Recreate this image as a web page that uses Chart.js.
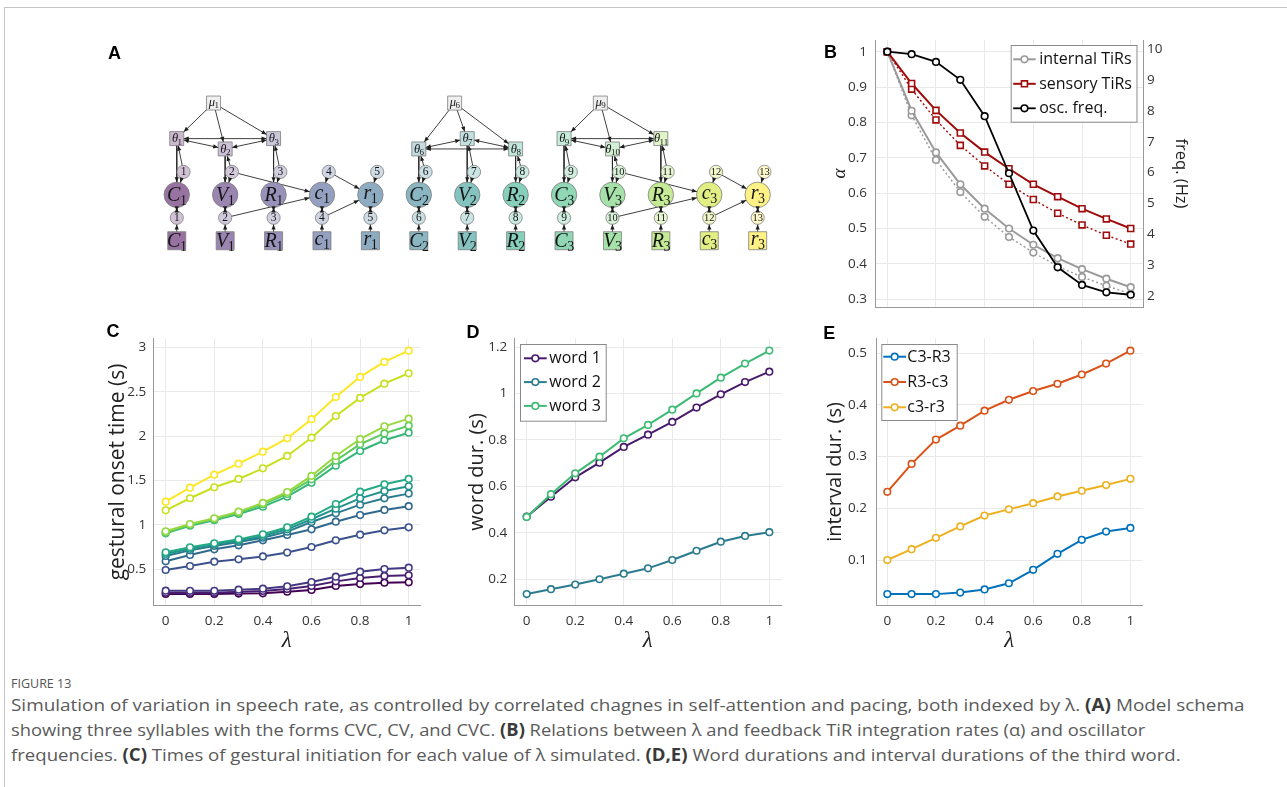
<!DOCTYPE html>
<html><head><meta charset="utf-8">
<script src="https://cdn.jsdelivr.net/npm/chart.js@4/dist/chart.umd.min.js"></script>
<style>
html,body{margin:0;padding:0;background:#fff;}
body{width:1287px;height:787px;position:relative;overflow:hidden;font-family:'Open Sans',sans-serif;}
canvas{position:absolute;}
.frame{position:absolute;left:4px;top:7px;width:1300px;height:800px;border-left:1px solid #c4c4c4;border-top:1px solid #c4c4c4;}
.letter{position:absolute;font:bold 18px 'Liberation Sans',Arial,sans-serif;line-height:18px;color:#000;z-index:5;}
.cap{position:absolute;left:11px;white-space:nowrap;transform-origin:0 0;color:#5a5a5a;font-family:'Open Sans',sans-serif;font-size:17px;line-height:20px;}
.cap b{color:#3a3a3a;font-weight:700;}
.fig{position:absolute;left:11px;top:676px;white-space:nowrap;transform-origin:0 0;color:#555;font-family:'Open Sans',sans-serif;font-size:12.5px;line-height:16px;}
</style></head>
<body>
<div class="frame"></div>
<canvas id="cA" width="720" height="280" style="left:100px;top:30px"></canvas>
<canvas id="cB" width="380" height="285" style="left:820px;top:30px"></canvas>
<canvas id="cC" width="340" height="340" style="left:100px;top:320px"></canvas>
<canvas id="cD" width="350" height="340" style="left:450px;top:320px"></canvas>
<canvas id="cE" width="370" height="340" style="left:800px;top:320px"></canvas>
<div class="letter" style="left:108px;top:44.3px">A</div>
<div class="letter" style="left:824px;top:42.7px">B</div>
<div class="letter" style="left:106.5px;top:321.7px">C</div>
<div class="letter" style="left:466.5px;top:322.5px">D</div>
<div class="letter" style="left:823.3px;top:323.5px">E</div>
<div class="fig" data-w="60">FIGURE 13</div>
<div class="cap" data-w="1234" style="top:694.5px">Simulation of variation in speech rate, as controlled by correlated chagnes in self-attention and pacing, both indexed by λ. <b>(A)</b> Model schema</div>
<div class="cap" data-w="1134" style="top:719.5px">showing three syllables with the forms CVC, CV, and CVC. <b>(B)</b> Relations between λ and feedback TiR integration rates (α) and oscillator</div>
<div class="cap" data-w="1169" style="top:744.5px">frequencies. <b>(C)</b> Times of gestural initiation for each value of λ simulated. <b>(D,E)</b> Word durations and interval durations of the third word.</div>
<script>
// ---------------- DATA ----------------
const LAMBDA = [0,0.1,0.2,0.3,0.4,0.5,0.6,0.7,0.8,0.9,1];

// Panel B
const B_LEGEND = ['internal TiRs','sensory TiRs','osc. freq.'];
const B_INTERNAL     = [1.000,0.833,0.715,0.625,0.556,0.500,0.454,0.416,0.385,0.358,0.334];
const B_INTERNAL_DOT = [1.000,0.820,0.694,0.603,0.533,0.476,0.432,0.393,0.363,0.338,0.315];
const B_SENSORY      = [1.000,0.910,0.834,0.770,0.716,0.669,0.625,0.590,0.556,0.527,0.500];
const B_SENSORY_DOT  = [1.000,0.894,0.807,0.735,0.677,0.625,0.582,0.543,0.510,0.481,0.456];
const B_FREQ         = [9.92,9.84,9.59,9.01,7.83,5.98,4.12,2.93,2.36,2.12,2.04];

// Panel C (gestural onset times, s)
const C_C1 = [0.222,0.222,0.222,0.226,0.229,0.248,0.267,0.312,0.334,0.349,0.353];
const C_V1 = [0.236,0.236,0.236,0.248,0.256,0.278,0.312,0.364,0.402,0.425,0.432];
const C_R1 = [0.259,0.258,0.258,0.271,0.282,0.308,0.357,0.417,0.473,0.503,0.518];
const C_c1 = [0.492,0.537,0.586,0.612,0.645,0.688,0.751,0.826,0.890,0.939,0.973];
const C_r1 = [0.590,0.661,0.725,0.770,0.826,0.886,0.950,1.036,1.111,1.168,1.211];
const C_C2 = [0.650,0.713,0.762,0.807,0.856,0.924,1.033,1.130,1.228,1.299,1.352];
const C_V2 = [0.672,0.732,0.781,0.822,0.875,0.950,1.063,1.183,1.299,1.382,1.434];
const C_R2 = [0.691,0.747,0.792,0.837,0.894,0.973,1.093,1.235,1.374,1.457,1.517];
const C_C3 = [0.905,0.990,1.052,1.123,1.205,1.318,1.475,1.667,1.832,1.953,2.038];
const C_V3 = [0.912,1.000,1.063,1.137,1.232,1.348,1.513,1.723,1.908,2.030,2.117];
const C_R3 = [0.928,1.010,1.074,1.149,1.247,1.370,1.551,1.776,1.967,2.110,2.196];
const C_c3 = [1.164,1.300,1.424,1.517,1.637,1.776,1.982,2.226,2.430,2.590,2.707];
const C_r3 = [1.261,1.419,1.565,1.689,1.824,1.975,2.190,2.440,2.666,2.835,2.962];
const C_SERIES = [C_C1,C_V1,C_R1,C_c1,C_r1,C_C2,C_V2,C_R2,C_C3,C_V3,C_R3,C_c3,C_r3];
const C_NAMES = ['C1','V1','R1','c1','r1','C2','V2','R2','C3','V3','R3','c3','r3'];

// Panel D (word durations, s)
const D_LEGEND = ['word 1','word 2','word 3'];
const D_WORD1 = [0.469,0.555,0.639,0.702,0.770,0.823,0.878,0.940,0.997,1.050,1.095];
const D_WORD2 = [0.135,0.156,0.176,0.199,0.223,0.246,0.282,0.322,0.361,0.386,0.402];
const D_WORD3 = [0.468,0.566,0.656,0.728,0.807,0.865,0.931,1.001,1.069,1.130,1.186];

// Panel E (interval durations, s)
const E_LEGEND = ['C3-R3','R3-c3','c3-r3'];
const E_C3R3 = [0.034,0.034,0.034,0.037,0.043,0.055,0.081,0.112,0.139,0.155,0.162];
const E_R3c3 = [0.232,0.286,0.333,0.360,0.389,0.410,0.427,0.441,0.459,0.480,0.505];
const E_c3r3 = [0.100,0.121,0.143,0.165,0.186,0.198,0.210,0.223,0.234,0.245,0.257];

// Panel A (model schema): gestures in columns, rows by level
const A_GESTURES = ['C','V','R','c','r','C','V','R','C','V','R','c','r'];
const A_SUBS     = ['1','1','1','1','1','2','2','2','3','3','3','3','3'];
const A_THETA_COLS = [0,1,2,5,6,7,8,9,10];
const A_THETA_NUM  = ['1','2','3','6','7','8','9','10','11'];
const A_THETA_ROW  = [4.45,4,4.45,4,4.45,4,4.45,4,4.45];
const A_MU_COLS = [0.76,5.74,8.75];
const A_MU_NUM  = ['1','6','9'];
const A_SYLLABLE_THETAS = [[0,1,2],[5,6,7],[8,9,10]];
const A_CODA = [3,4,11,12];
const A_CROSS = [[1,3],[3,4],[9,11],[11,12]];
const A_ROW = {square:0, lower:1, big:2, top:3, mu:6};

// ---------------- STYLE ----------------
const VIRIDIS13 = ['#440154','#481f70','#443983','#3b528b','#31688e','#297a8e','#21918c','#23a983','#35b779','#5ec962','#95d840','#c8e020','#fde725'];
const TICK_FONT = {family:"'Open Sans', sans-serif", size:13.5};
const GRID = '#e9e9e9', AXIS = '#999', TICKC = '#333';
const LAMBDA_FONT = {family:"'Liberation Serif', serif", style:'italic', size:23};
const TITLE_FONT = {family:"'Open Sans', sans-serif", size:20};

function fmt(v){ return String(Math.round(v*100)/100); }
function pts(vals){ return LAMBDA.map((x,i)=>({x:x, y:vals[i]})); }
function blend(hex, t){
  const n = parseInt(hex.slice(1),16);
  const r=(n>>16)&255, g=(n>>8)&255, b=n&255;
  const f=c=>Math.round(c+(255-c)*t);
  return 'rgb('+f(r)+','+f(g)+','+f(b)+')';
}
function fitFn(size, horiz){
  return function(s){
    if(horiz) s.height=size; else s.width=size;
    s.paddingLeft=0; s.paddingRight=0; s.paddingTop=0; s.paddingBottom=0;
  };
}
function xScale(c){ return {
  type:'linear', position:'bottom', min:c.min, max:c.max,
  ticks:{stepSize:0.2, includeBounds:false, display:c.labels!==false, font:TICK_FONT, color:TICKC, padding:c.pad||7, maxRotation:0, autoSkip:false, callback:fmt},
  grid:{color:GRID, drawTicks:false},
  border:{color:AXIS, width:1},
  title: c.title ? {display:true, text:c.title, font:c.titleFont, color:'#222', padding:{top:0,bottom:c.titlePad}} : {display:false},
  afterFit: fitFn(c.size, true)
};}
function yScale(c){ return {
  type:'linear', position:c.position||'left', min:c.min, max:c.max,
  ticks:{stepSize:c.step, includeBounds:false, font:TICK_FONT, color:TICKC, padding:c.pad||7, autoSkip:false, callback:fmt},
  grid:{color:GRID, drawTicks:false, drawOnChartArea:c.grid!==false},
  border:{color:AXIS, width:1},
  title:{display:true, text:c.title, font:c.titleFont, color:'#222', padding:{top:c.titlePad,bottom:0}},
  afterFit: fitFn(c.size, false)
};}
function series(label, vals, color, o){
  return Object.assign({
    label:label, data:pts(vals), borderColor:color, backgroundColor:color,
    borderWidth:2, pointRadius:3.3, pointStyle:'circle', pointBorderWidth:1.6,
    pointBackgroundColor:'#fff', pointBorderColor:color, showLine:true, fill:false, tension:0
  }, o||{});
}
function baseOptions(scales, padding, legend){
  return {
    responsive:false, animation:false, devicePixelRatio:1,
    layout:{padding:padding},
    plugins:{legend:{display:false}, tooltip:{enabled:false}, boxLegend: legend || false},
    scales:scales
  };
}

// Legend drawn inside the plot (box style)
function drawMarker(ctx, style, r, x, y){
  ctx.beginPath();
  if(style==='rect'){ const h=r*Math.SQRT1_2; ctx.rect(x-h,y-h,2*h,2*h); }
  else ctx.arc(x,y,r,0,Math.PI*2);
  ctx.fill(); ctx.stroke();
}
const boxLegend = {
  id:'boxLegend',
  afterDraw(chart, args, o){
    if(!o || o.w===undefined) return;
    const ctx = chart.ctx; ctx.save();
    ctx.fillStyle='#fff'; ctx.strokeStyle='#8a8a8a'; ctx.lineWidth=1; ctx.setLineDash([]);
    ctx.fillRect(o.x,o.y,o.w,o.h); ctx.strokeRect(o.x+0.5,o.y+0.5,o.w,o.h);
    let i=0;
    chart.data.datasets.forEach(ds=>{
      if(!ds.legendLabel) return;
      const y = o.y + o.first + i*o.step;
      ctx.strokeStyle=ds.borderColor; ctx.lineWidth=ds.borderWidth; ctx.setLineDash([]);
      ctx.beginPath(); ctx.moveTo(o.x+o.l0,y); ctx.lineTo(o.x+o.l1,y); ctx.stroke();
      ctx.fillStyle='#fff'; ctx.lineWidth=ds.pointBorderWidth;
      drawMarker(ctx, ds.pointStyle, ds.pointRadius, o.x+(o.l0+o.l1)/2, y);
      ctx.fillStyle='#111'; ctx.font="16px 'Open Sans', sans-serif"; ctx.textBaseline='middle'; ctx.textAlign='left';
      ctx.fillText(ds.legendLabel, o.x+o.tx, y+0.5);
      i++;
    });
    ctx.restore();
  }
};
Chart.register(boxLegend);

// ---------------- PANEL B ----------------
const GRAY='#9a9a9a', RED='#9e0b0b';
new Chart(document.getElementById('cB'), {
  type:'scatter',
  data:{datasets:[
    series('internal dotted', B_INTERNAL_DOT, GRAY, {borderWidth:1.4, borderDash:[2,2.5], order:5}),
    series('sensory dotted', B_SENSORY_DOT, RED, {borderWidth:1.4, borderDash:[2,2.5], pointStyle:'rect', pointRadius:4.2, order:4}),
    series(B_LEGEND[0], B_INTERNAL, GRAY, {legendLabel:B_LEGEND[0], order:3}),
    series(B_LEGEND[1], B_SENSORY, RED, {legendLabel:B_LEGEND[1], pointStyle:'rect', pointRadius:4.2, order:2}),
    series(B_LEGEND[2], B_FREQ, '#000', {legendLabel:B_LEGEND[2], yAxisID:'y2', borderWidth:1.8, order:1})
  ]},
  options: baseOptions({
    x: xScale({min:-0.0505, max:1.0505, labels:false, size:8}),
    y: yScale({min:0.278, max:1.033, step:0.1, size:55, pad:8, title:'α', titleFont:{family:"'Liberation Serif', serif", style:'italic', size:19}, titlePad:9}),
    y2: yScale({position:'right', min:1.643, max:10.30, step:1, size:57, pad:4, grid:false, title:'freq. (Hz)', titleFont:{family:"'Open Sans', sans-serif", size:16.5}, titlePad:9})
  }, {top:10,left:0,right:0,bottom:0},
  {x:190.7, y:15, w:125.8, h:76.7, first:14.3, step:24.5, l0:2.5, l1:25, tx:28.5})
});

// ---------------- PANEL C ----------------
new Chart(document.getElementById('cC'), {
  type:'scatter',
  data:{datasets: C_SERIES.map((vals,i)=>series(C_NAMES[i], vals, VIRIDIS13[i], {order:13-i}))},
  options: baseOptions({
    x: xScale({min:-0.051, max:1.0465, size:54.3, pad:7.6, title:'λ', titleFont:LAMBDA_FONT, titlePad:5}),
    y: yScale({min:0.090, max:3.101, step:0.5, size:53.3, pad:7, title:'gestural onset time (s)', titleFont:{family:"'Open Sans', sans-serif", size:21}, titlePad:5})
  }, {top:18.3,left:0,right:20,bottom:0})
});

// ---------------- PANEL D ----------------
new Chart(document.getElementById('cD'), {
  type:'scatter',
  data:{datasets:[
    series(D_LEGEND[0], D_WORD1, '#481a6c', {legendLabel:D_LEGEND[0], order:2}),
    series(D_LEGEND[1], D_WORD2, '#2a7b8e', {legendLabel:D_LEGEND[1], order:3}),
    series(D_LEGEND[2], D_WORD3, '#3dbb74', {legendLabel:D_LEGEND[2], order:1})
  ]},
  options: baseOptions({
    x: xScale({min:-0.0523, max:1.051, size:54.3, pad:7.6, title:'λ', titleFont:LAMBDA_FONT, titlePad:5}),
    y: yScale({min:0.0848, max:1.2389, step:0.2, size:64, pad:6.7, title:'word dur. (s)', titleFont:TITLE_FONT, titlePad:15})
  }, {top:18.3,left:0,right:18.3,bottom:0},
  {x:70, y:24, w:85.7, h:76.7, first:14.3, step:23.8, l0:4, l1:26.7, tx:29.3})
});

// ---------------- PANEL E ----------------
new Chart(document.getElementById('cE'), {
  type:'scatter',
  data:{datasets:[
    series(E_LEGEND[0], E_C3R3, '#0072bd', {legendLabel:E_LEGEND[0], order:1}),
    series(E_LEGEND[1], E_R3c3, '#d95319', {legendLabel:E_LEGEND[1], order:2}),
    series(E_LEGEND[2], E_c3r3, '#edb120', {legendLabel:E_LEGEND[2], order:3})
  ]},
  options: baseOptions({
    x: xScale({min:-0.0465, max:1.0506, size:54.3, pad:7.6, title:'λ', titleFont:LAMBDA_FONT, titlePad:5}),
    y: yScale({min:0.0116, max:0.529, step:0.1, size:76, pad:9, title:'interval dur. (s)', titleFont:TITLE_FONT, titlePad:23.7})
  }, {top:18.3,left:0,right:27.3,bottom:0},
  {x:81.3, y:24, w:75.4, h:76, first:12.7, step:25.3, l0:2, l1:24.7, tx:26})
});

// ---------------- PANEL A (schema) ----------------
const TOP_SHIFT = 0.14;
const nodes = {};
A_GESTURES.forEach((g,i)=>{
  nodes['sq'+i]  = {x:i, y:A_ROW.square, type:'sq', col:i};
  nodes['lo'+i]  = {x:i, y:A_ROW.lower, type:'lo', col:i};
  nodes['big'+i] = {x:i, y:A_ROW.big, type:'big', col:i};
  nodes['top'+i] = {x:i+TOP_SHIFT, y:A_ROW.top, type:'top', col:i};
});
A_THETA_COLS.forEach((c,j)=>{ nodes['th'+c] = {x:c, y:A_THETA_ROW[j], type:'th', col:c, num:A_THETA_NUM[j]}; });
A_MU_COLS.forEach((c,j)=>{ nodes['mu'+j] = {x:c, y:A_ROW.mu, type:'mu', num:A_MU_NUM[j]}; });

const edges = [];
A_SYLLABLE_THETAS.forEach((th,s)=>{
  th.forEach(c=>edges.push(['mu'+s,'th'+c,'end']));
  [[0,1],[1,2],[0,2]].forEach(p=>edges.push(['th'+th[p[0]],'th'+th[p[1]],'both']));
  th.forEach(c=>{
    edges.push(['th'+c,'big'+c,'end']);
    edges.push(['top'+c,'th'+c,'end']);
    edges.push(['top'+c,'big'+c,'end']);
  });
});
A_CODA.forEach(c=>edges.push(['top'+c,'big'+c,'end']));
A_GESTURES.forEach((g,i)=>{ edges.push(['sq'+i,'lo'+i,'end']); edges.push(['lo'+i,'big'+i,'both']); });
A_CROSS.forEach(p=>{ edges.push(['top'+p[0],'big'+p[1],'end']); edges.push(['lo'+p[0],'big'+p[1],'end']); });

const GEOM = {sq:{shape:'rect',h:9}, lo:{shape:'circle',r:6.6}, big:{shape:'circle',r:12.7}, top:{shape:'circle',r:6.6}, th:{shape:'rect',h:7}, mu:{shape:'rect',h:7}};
const RECT_R = h => h/Math.SQRT1_2;

function nodeDataset(type, keys, colors, order){
  const g = GEOM[type];
  return {
    label:type, data:keys.map(k=>({x:nodes[k].x, y:nodes[k].y})),
    pointStyle: g.shape==='rect' ? 'rect' : 'circle',
    pointRadius: g.shape==='rect' ? RECT_R(g.h) : g.r,
    pointBackgroundColor: colors, pointBorderColor:'#7d7d7d', pointBorderWidth:0.8,
    showLine:false, order:order
  };
}
const idx13 = A_GESTURES.map((g,i)=>i);
const aDatasets = [];
edges.forEach(e=>{
  aDatasets.push({label:'edge', data:[{x:nodes[e[0]].x,y:nodes[e[0]].y},{x:nodes[e[1]].x,y:nodes[e[1]].y}],
    showLine:true, pointRadius:0, borderColor:'#2a2a2a', borderWidth:0.9, order:5});
});
aDatasets.push(nodeDataset('sq', idx13.map(i=>'sq'+i), idx13.map(i=>blend(VIRIDIS13[i],0.45)), 0));
aDatasets.push(nodeDataset('lo', idx13.map(i=>'lo'+i), idx13.map(i=>blend(VIRIDIS13[i],0.76)), 0));
aDatasets.push(nodeDataset('big', idx13.map(i=>'big'+i), idx13.map(i=>blend(VIRIDIS13[i],0.45)), 0));
aDatasets.push(nodeDataset('top', idx13.map(i=>'top'+i), idx13.map(i=>blend(VIRIDIS13[i],0.76)), 0));
aDatasets.push(nodeDataset('th', A_THETA_COLS.map(c=>'th'+c), A_THETA_COLS.map(c=>blend(VIRIDIS13[c],0.72)), 0));
aDatasets.push(nodeDataset('mu', A_MU_COLS.map((c,j)=>'mu'+j), A_MU_COLS.map(()=> '#efefef'), 0));

const schemaPlugin = {
  id:'schema',
  afterDatasetsDraw(chart){
    const ctx=chart.ctx, xs=chart.scales.x, ys=chart.scales.y;
    const P = n=>({x:xs.getPixelForValue(n.x), y:ys.getPixelForValue(n.y)});
    function boundary(n, from){
      const p=P(n), dx=from.x-p.x, dy=from.y-p.y, L=Math.hypot(dx,dy), g=GEOM[n.type];
      let t;
      if(g.shape==='circle') t=g.r/L;
      else t=Math.min(dx? g.h/Math.abs(dx):Infinity, dy? g.h/Math.abs(dy):Infinity);
      return {x:p.x+dx*t, y:p.y+dy*t};
    }
    function head(tip, from){
      const a=Math.atan2(tip.y-from.y, tip.x-from.x), L=5, W=2.1;
      ctx.beginPath(); ctx.moveTo(tip.x,tip.y);
      ctx.lineTo(tip.x-L*Math.cos(a)+W*Math.sin(a), tip.y-L*Math.sin(a)-W*Math.cos(a));
      ctx.lineTo(tip.x-L*Math.cos(a)-W*Math.sin(a), tip.y-L*Math.sin(a)+W*Math.cos(a));
      ctx.closePath(); ctx.fill();
    }
    ctx.save(); ctx.fillStyle='#1e1e1e';
    edges.forEach(e=>{
      const a=nodes[e[0]], b=nodes[e[1]], pa=P(a), pb=P(b);
      head(boundary(b,pa), pa);
      if(e[2]==='both') head(boundary(a,pb), pb);
    });
    function sub(main, s, cx, cy, size, italic, capShift){
      const f1=(italic?'italic ':'')+size+"px 'Liberation Serif', serif";
      const f2=Math.round(size*0.68)+"px 'Liberation Serif', serif";
      ctx.font=f1; const w1=ctx.measureText(main).width;
      ctx.font=f2; const w2=ctx.measureText(s).width;
      const x0=cx-(w1+w2)/2+0.5, base=cy+size*capShift;
      ctx.textAlign='left'; ctx.textBaseline='alphabetic';
      ctx.font=f1; ctx.fillText(main,x0,base);
      ctx.font=f2; ctx.fillText(s,x0+w1-0.5,base+size*0.18);
    }
    ctx.fillStyle='#151515';
    A_GESTURES.forEach((g,i)=>{
      const lower = (g==='c'||g==='r');
      const shift = lower?0.22:0.33;
      const pb=P(nodes['big'+i]); sub(g, A_SUBS[i], pb.x, pb.y, 20, true, shift);
      const ps=P(nodes['sq'+i]); sub(g, A_SUBS[i], ps.x, ps.y, 20, true, shift);
      const num=String(i+1);
      ctx.font=(num.length>1?'10.5px':'11.5px')+" 'Liberation Serif', serif"; ctx.textAlign='center'; ctx.textBaseline='middle';
      const pl=P(nodes['lo'+i]); ctx.fillText(num, pl.x, pl.y+0.5);
      const pt=P(nodes['top'+i]); ctx.fillText(num, pt.x, pt.y+0.5);
    });
    A_THETA_COLS.forEach(c=>{ const n=nodes['th'+c], p=P(n); sub('θ', n.num, p.x, p.y, 12.5, true, 0.3); });
    A_MU_COLS.forEach((c,j)=>{ const n=nodes['mu'+j], p=P(n); sub('μ', n.num, p.x, p.y, 12.5, true, 0.2); });
    ctx.restore();
  }
};

new Chart(document.getElementById('cA'), {
  type:'scatter',
  data:{datasets:aDatasets},
  options:{
    responsive:false, animation:false, devicePixelRatio:1,
    layout:{padding:0},
    plugins:{legend:{display:false}, tooltip:{enabled:false}, boxLegend:false},
    scales:{
      x:{type:'linear', display:false, min:-1.306, max:13.008},
      y:{type:'linear', display:false, min:-2.429, max:8.594}
    }
  },
  plugins:[schemaPlugin]
});

// ---------------- caption fitting ----------------
function fitText(){
  document.querySelectorAll('[data-w]').forEach(el=>{
    el.style.transform='none';
    const w=el.scrollWidth, t=parseFloat(el.dataset.w);
    el.style.transform='scaleX('+(t/w)+')';
  });
}
fitText();
if(document.fonts && document.fonts.ready) document.fonts.ready.then(fitText);
</script>
</body></html>
